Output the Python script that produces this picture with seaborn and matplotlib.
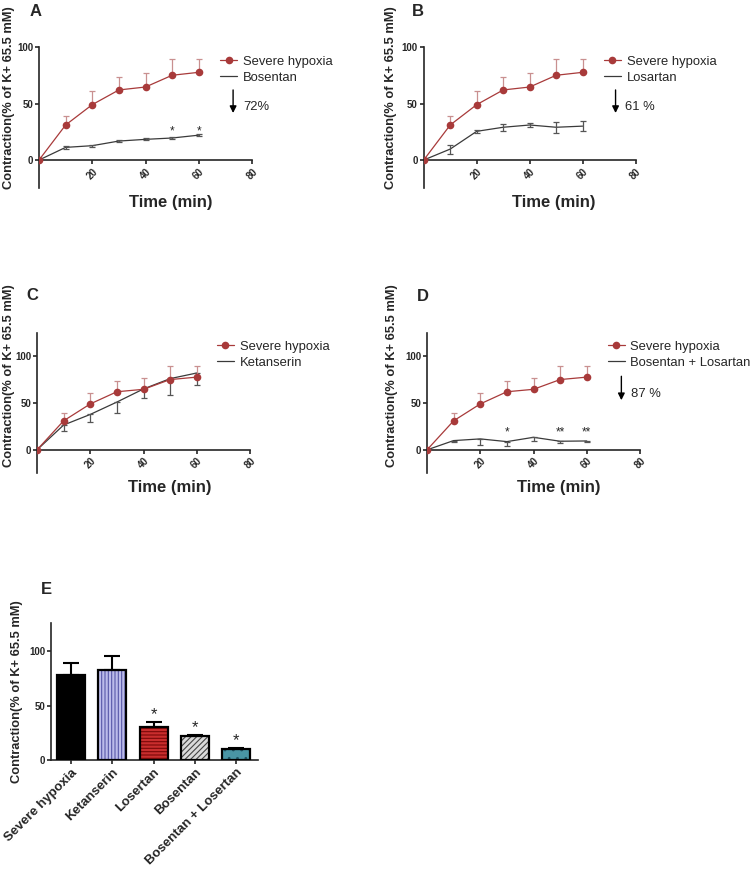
import numpy as np
import matplotlib
matplotlib.use("Agg")
import matplotlib.pyplot as plt
from matplotlib.patches import Rectangle
import seaborn as sns

# ---- data ----
time = [0, 10, 20, 30, 40, 50, 60]
hyp_mean = [0, 31, 49, 62, 64.6, 75, 77.6]
hyp_sem = [0, 8, 12, 11.5, 12.4, 14, 11.5]
bos_mean = [0, 11.2, 12.7, 16.8, 18.3, 19.5, 22]
bos_sem = [0, 1, 1, 0.8, 0.8, 1, 0.8]
los_mean = [0, 9.7, 25.4, 29, 31, 29, 30]
los_sem = [0, 4, 1.5, 3, 1.5, 5, 4.5]
ket_mean = [0, 26.5, 37.8, 51, 65, 76, 82]
ket_sem = [0, 6.5, 8.5, 12, 10, 17, 13]
bl_mean = [0, 9.9, 11.7, 8.8, 13.4, 9.2, 9.5]
bl_sem = [0, 1.5, 7, 4.5, 4, 1.5, 0.8]

bar_groups = ["Severe hypoxia", "Ketanserin", "Losertan", "Bosentan", "Bosentan + Losertan"]
bar_mean = [78, 82.5, 30.5, 22.5, 10.5]
bar_sem = [11, 13, 4.5, 0.5, 0.8]
bar_stars = ["", "", "*", "*", "*"]

sns.set_style("ticks")
plt.rcParams.update({
    "font.family": ["Liberation Sans", "DejaVu Sans"],
    "hatch.linewidth": 0.8,
    "axes.linewidth": 1.2,
    "xtick.major.width": 1.2, "ytick.major.width": 1.2,
    "xtick.major.size": 3, "ytick.major.size": 3,
    "xtick.major.pad": 1.5, "ytick.major.pad": 1.2,
})

W, H = 754, 871
fig = plt.figure(figsize=(W / 100, H / 100), dpi=100)


def px_axes(x0, x1, y0, y1):
    return fig.add_axes([x0 / W, 1 - y1 / H, (x1 - x0) / W, (y1 - y0) / H])


def ftext(x, y, s, **kw):
    fig.text(x / W, 1 - y / H, s, **kw)


HYP = "#a83a3a"
HYP_ERR = "#c99090"
DRUG = "#3a3a3a"


def time_panel(ax, drug_mean, drug_sem, drug_name, top, legend_xy, both=True):
    sns.lineplot(x=time, y=hyp_mean, marker="o", markersize=5.5, markeredgewidth=0,
                 color=HYP, lw=0.9, ax=ax, label="Severe hypoxia", zorder=4)
    ax.errorbar(time[1:], hyp_mean[1:], yerr=[np.zeros(6), hyp_sem[1:]], fmt="none",
                ecolor=HYP_ERR, elinewidth=0.9, capsize=2.5, capthick=0.9, zorder=3)
    sns.lineplot(x=time, y=drug_mean, color=DRUG, lw=0.9, ax=ax, label=drug_name, zorder=2)
    lower = drug_sem[1:]
    upper = drug_sem[1:] if both else np.zeros(6)
    ax.errorbar(time[1:], drug_mean[1:], yerr=[lower, upper], fmt="none",
                ecolor="#555555", elinewidth=0.9, capsize=2.5, capthick=0.9, zorder=2)
    ax.set_xlim(0, 80)
    ax.set_ylim(-25, top)
    ax.spines["bottom"].set_position(("data", 0))
    sns.despine(ax=ax)
    ax.set_xticks([20, 40, 60, 80])
    ax.set_yticks([0, 50, 100])
    ax.tick_params(labelsize=7)
    for lb in ax.get_xticklabels():
        lb.set_rotation(45)
        lb.set_fontweight("bold")
        lb.set_ha("center")
    for lb in ax.get_yticklabels():
        lb.set_fontweight("bold")
    ax.set_xlabel("")
    ax.set_ylabel("")
    ax.legend(loc="upper left", bbox_to_anchor=legend_xy, frameon=False, fontsize=9.4,
              handlelength=1.3, handletextpad=0.45, labelspacing=0.3, borderpad=0,
              borderaxespad=0)


def reduction(ax, x, y0, y1, label):
    ax.annotate("", xy=(x, y1), xytext=(x, y0),
                arrowprops=dict(arrowstyle="-|>", color="black", lw=1, mutation_scale=10,
                                shrinkA=0, shrinkB=0), annotation_clip=False)
    ax.text(x + 3.7, y1 + (y0 - y1) * 0.27, label, fontsize=9.4, va="center", ha="left")


YLAB = "Contraction(% of K+ 65.5 mM)"

# ---- A ----
axA = px_axes(39, 252, 47, 188.3)
time_panel(axA, bos_mean, bos_sem, "Bosentan", 100, (0.85, 0.94))
reduction(axA, 72.9, 62, 41.6, "72%")
for t, s in [(50, "*"), (60, "*")]:
    axA.text(t, 25, s, fontsize=8.5, ha="center", va="center")

# ---- B ----
axB = px_axes(423.7, 635.7, 47, 188.3)
time_panel(axB, los_mean, los_sem, "Losartan", 100, (0.849, 0.94))
reduction(axB, 72.4, 62, 41.6, "61 %")

# ---- C ----
axC = px_axes(37, 250, 332.7, 473.3)
time_panel(axC, ket_mean, ket_sem, "Ketanserin", 125, (0.844, 0.944), both=False)

# ---- D ----
axD = px_axes(427, 640, 332.7, 473.3)
time_panel(axD, bl_mean, bl_sem, "Bosentan + Losartan", 125, (0.848, 0.944), both=False)
reduction(axD, 73, 78.5, 53, "87 %")
for t, s in [(30, "*"), (50, "**"), (60, "**")]:
    axD.text(t, 18.5, s, fontsize=8.5, ha="center", va="center")

# ---- E ----
axE = px_axes(51, 258, 623.3, 760.3)
fills = ["#000000", "#b4b4f2", "#e31414", "#dadada", "#3a9fb4"]
hatch_cols = ["#000000", "#5858a8", "#7a0808", "#444444", "#1f5566"]
hatches = [None, "|||||", "-----", "//////", ".."]
sns.barplot(x=bar_groups, y=bar_mean, hue=bar_groups, palette=fills, legend=False,
            width=0.68, ax=axE, edgecolor="black", linewidth=0)
for p, hc, h in zip(axE.patches, hatch_cols, hatches):
    p.set_edgecolor(hc)
    p.set_linewidth(0)
    if h:
        p.set_hatch(h)
    axE.add_patch(Rectangle(p.get_xy(), p.get_width(), p.get_height(), fill=False,
                            edgecolor="black", lw=1.6, zorder=3))
xpos = np.arange(len(bar_groups))
axE.errorbar(xpos, bar_mean, yerr=[np.zeros(5), bar_sem], fmt="none", ecolor="black",
             elinewidth=1.5, capsize=6, capthick=1.5, zorder=2)
for x, m, s, st in zip(xpos, bar_mean, bar_sem, bar_stars):
    if st:
        axE.text(x, m + s + 6.5, st, fontsize=12, ha="center", va="center")
axE.set_xlim(-0.485, 4.53)
axE.set_ylim(0, 125)
axE.set_yticks([0, 50, 100])
sns.despine(ax=axE)
axE.tick_params(axis="y", labelsize=7)
axE.set_xticks(xpos)
axE.set_xticklabels(bar_groups, rotation=45, ha="right", rotation_mode="anchor",
                    fontsize=9.5, fontweight="bold")
for lb in axE.get_yticklabels():
    lb.set_fontweight("bold")
axE.set_xlabel("")
axE.set_ylabel("")

# ---- shared texts ----
for x, y in [(9, 97.5), (391, 97.5), (9, 376), (392.5, 376), (17.5, 692)]:
    ftext(x, y, YLAB, rotation=90, ha="center", va="center", fontsize=9.3, fontweight="bold")
for x, y in [(171, 202), (554, 202), (170, 487), (559, 487)]:
    ftext(x, y, "Time (min)", ha="center", va="center", fontsize=12, fontweight="bold")
for x, y, s in [(35.5, 12, "A"), (418, 12, "B"), (32.5, 295.5, "C"), (423, 296, "D"),
                (46.5, 589, "E")]:
    ftext(x, y, s, ha="center", va="center", fontsize=12, fontweight="bold")

fig.savefig("out.png", dpi=100)
